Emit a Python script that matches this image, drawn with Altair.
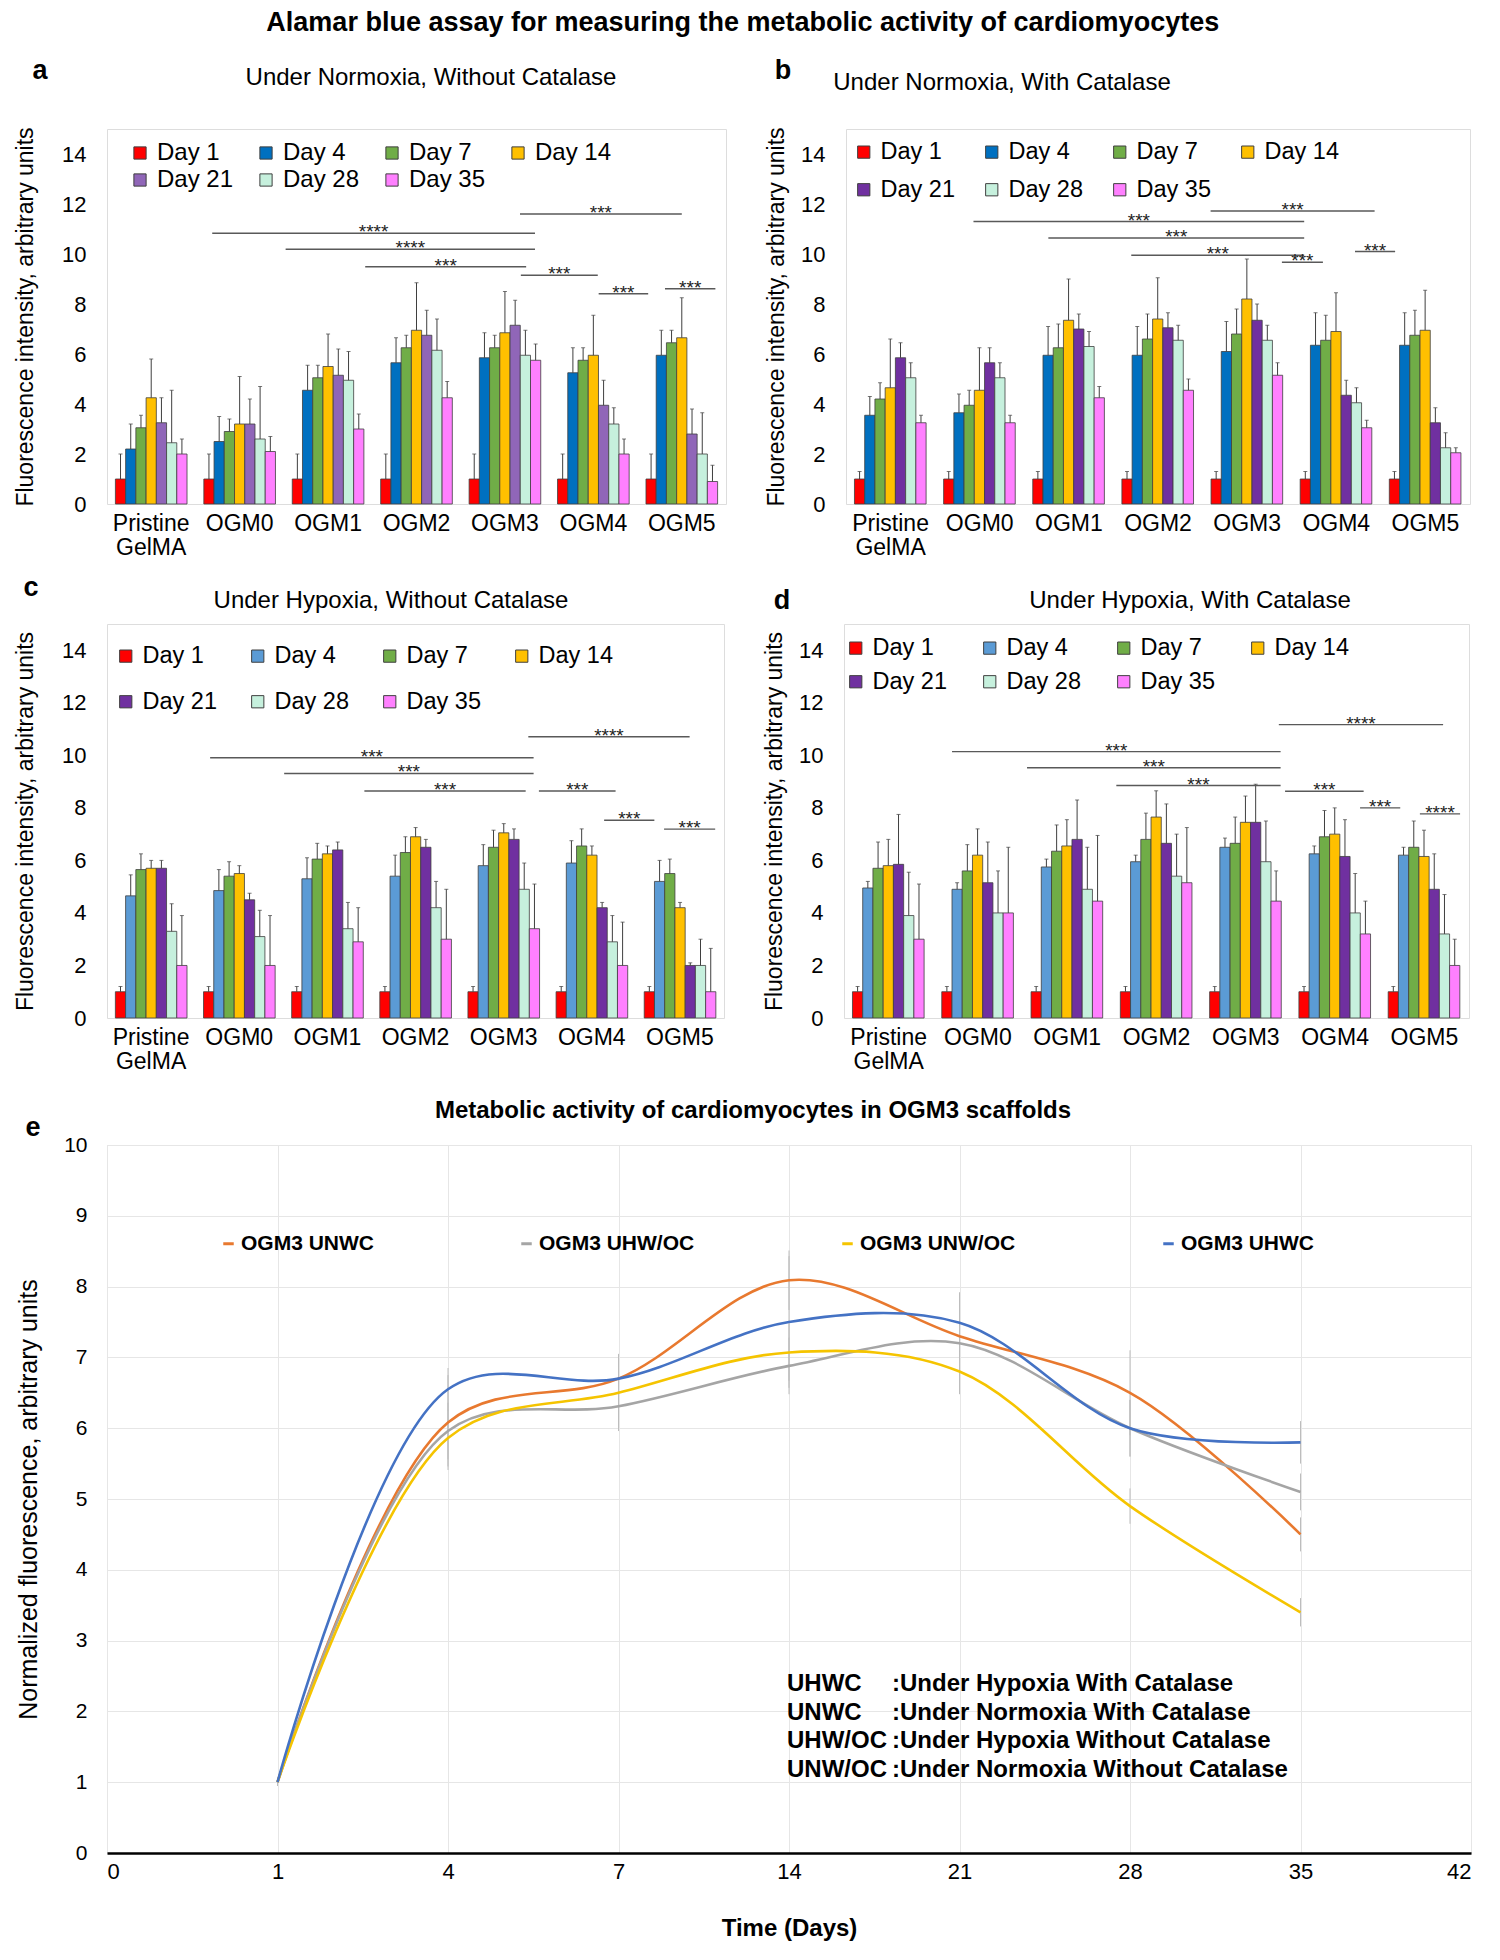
import altair as alt
import pandas as pd

FONT = "Liberation Sans"
MAIN_TITLE = "Alamar blue assay for measuring the metabolic activity of cardiomyocytes"

days = ["Day 1", "Day 4", "Day 7", "Day 14", "Day 21", "Day 28", "Day 35"]
groups = ["Pristine GelMA", "OGM0", "OGM1", "OGM2", "OGM3", "OGM4", "OGM5"]

# ---------------- panel a : Normoxia, without catalase
a_vals = [
    [1.0, 2.2, 3.05, 4.25, 3.25, 2.45, 2.0],
    [1.0, 2.5, 2.9, 3.2, 3.2, 2.6, 2.1],
    [1.0, 4.55, 5.05, 5.5, 5.15, 4.95, 3.0],
    [1.0, 5.65, 6.25, 6.95, 6.75, 6.15, 4.25],
    [1.0, 5.85, 6.25, 6.85, 7.15, 5.95, 5.75],
    [1.0, 5.25, 5.75, 5.95, 3.95, 3.2, 2.0],
    [1.0, 5.95, 6.45, 6.65, 2.8, 2.0, 0.9],
]
a_errs = [
    [1.0, 1.0, 0.5, 1.55, 1.0, 2.1, 0.6],
    [1.0, 1.0, 0.5, 1.9, 1.0, 2.1, 0.6],
    [1.0, 1.0, 0.5, 1.3, 1.05, 1.15, 0.6],
    [1.0, 1.0, 0.5, 1.9, 1.0, 1.25, 0.65],
    [1.0, 1.0, 0.5, 1.65, 1.0, 1.0, 0.65],
    [1.0, 1.0, 0.5, 1.6, 1.0, 0.65, 0.6],
    [1.0, 1.0, 0.5, 1.6, 1.0, 1.65, 0.65],
]
a_colors = ["#FF0000", "#0070C0", "#70AD47", "#FFC000", "#9066B8", "#C6F0DD", "#FF80FF"]
a_br_x1 = [1.19, 2.02, 2.92, 4.67, 4.68, 5.56, 6.31]
a_br_x2 = [4.84, 4.84, 4.74, 6.50, 5.55, 6.12, 6.88]
a_br_y = [10.83, 10.19, 9.49, 11.6, 9.15, 8.41, 8.61]
a_br_lab = ["****", "****", "***", "***", "***", "***", "***"]

# ---------------- panel b : Normoxia, with catalase
b_vals = [
    [1.0, 3.55, 4.2, 4.65, 5.85, 5.05, 3.25],
    [1.0, 3.65, 3.95, 4.55, 5.65, 5.05, 3.25],
    [1.0, 5.95, 6.25, 7.35, 7.0, 6.3, 4.25],
    [1.0, 5.95, 6.6, 7.4, 7.05, 6.55, 4.55],
    [1.0, 6.1, 6.8, 8.2, 7.35, 6.55, 5.15],
    [1.0, 6.35, 6.55, 6.9, 4.35, 4.05, 3.05],
    [1.0, 6.35, 6.75, 6.95, 3.25, 2.25, 2.05],
]
b_errs = [
    [0.3, 0.75, 0.65, 1.95, 0.6, 0.6, 0.3],
    [0.3, 0.75, 0.6, 1.7, 0.6, 0.6, 0.3],
    [0.3, 1.15, 0.95, 1.65, 0.6, 0.6, 0.45],
    [0.3, 1.15, 1.0, 1.65, 0.6, 0.6, 0.45],
    [0.3, 1.2, 1.0, 1.6, 0.65, 0.6, 0.5],
    [0.3, 1.3, 1.0, 1.55, 0.6, 0.6, 0.3],
    [0.3, 1.3, 1.0, 1.6, 0.6, 0.6, 0.2],
]
b_colors = ["#FF0000", "#0070C0", "#70AD47", "#FFC000", "#7030A0", "#C6F0DD", "#FF80FF"]
b_br_x1 = [1.43, 2.27, 3.20, 4.09, 4.89, 5.71]
b_br_x2 = [5.14, 5.14, 5.14, 5.93, 5.35, 6.16]
b_br_y = [11.3, 10.64, 9.95, 11.72, 9.67, 10.1]
b_br_lab = ["***", "***", "***", "***", "***", "***"]

# ---------------- panel c : Hypoxia, without catalase
c_vals = [
    [1.0, 4.65, 5.65, 5.7, 5.7, 3.3, 2.0],
    [1.0, 4.85, 5.4, 5.5, 4.5, 3.1, 2.0],
    [1.0, 5.3, 6.05, 6.25, 6.4, 3.4, 2.9],
    [1.0, 5.4, 6.3, 6.9, 6.5, 4.2, 3.0],
    [1.0, 5.8, 6.5, 7.05, 6.8, 4.9, 3.4],
    [1.0, 5.9, 6.55, 6.2, 4.2, 2.9, 2.0],
    [1.0, 5.2, 5.5, 4.2, 2.0, 2.0, 1.0],
]
c_errs = [
    [0.2, 0.8, 0.6, 0.3, 0.3, 1.05, 1.9],
    [0.2, 0.8, 0.55, 0.3, 0.25, 1.0, 1.9],
    [0.2, 0.8, 0.6, 0.3, 0.3, 1.0, 1.3],
    [0.2, 0.8, 0.6, 0.35, 0.3, 1.0, 1.9],
    [0.2, 0.8, 0.65, 0.35, 0.4, 1.0, 1.7],
    [0.2, 0.85, 0.65, 0.35, 0.2, 1.0, 1.65],
    [0.2, 0.8, 0.55, 0.2, 0.1, 1.0, 1.65],
]
c_colors = ["#FF0000", "#5B9BD5", "#70AD47", "#FFC000", "#7030A0", "#C6F0DD", "#FF80FF"]
c_br_x1 = [1.17, 2.01, 2.92, 4.78, 4.90, 5.64, 6.32]
c_br_x2 = [4.84, 4.84, 4.75, 6.61, 5.77, 6.21, 6.90]
c_br_y = [9.91, 9.31, 8.64, 10.71, 8.64, 7.53, 7.19]
c_br_lab = ["***", "***", "***", "****", "***", "***", "***"]

# ---------------- panel d : Hypoxia, with catalase
d_vals = [
    [1.0, 4.95, 5.7, 5.8, 5.85, 3.9, 3.0],
    [1.0, 4.9, 5.6, 6.2, 5.15, 4.0, 4.0],
    [1.0, 5.75, 6.35, 6.55, 6.8, 4.9, 4.45],
    [1.0, 5.95, 6.8, 7.65, 6.65, 5.4, 5.15],
    [1.0, 6.5, 6.65, 7.45, 7.45, 5.95, 4.45],
    [1.0, 6.25, 6.9, 7.0, 6.15, 4.0, 3.2],
    [1.0, 6.2, 6.5, 6.15, 4.9, 3.2, 2.0],
]
d_errs = [
    [0.2, 0.25, 1.0, 1.0, 1.9, 1.65, 2.1],
    [0.2, 0.25, 1.0, 1.0, 1.55, 1.6, 2.5],
    [0.2, 0.3, 1.0, 1.0, 1.5, 1.6, 2.5],
    [0.2, 0.25, 1.0, 1.0, 1.5, 1.6, 2.1],
    [0.2, 0.35, 1.0, 1.0, 1.45, 1.55, 1.15],
    [0.2, 0.3, 1.0, 1.0, 1.4, 1.5, 1.25],
    [0.2, 0.3, 1.0, 1.0, 1.35, 1.5, 1.0],
]
d_colors = ["#FF0000", "#5B9BD5", "#70AD47", "#FFC000", "#7030A0", "#C6F0DD", "#FF80FF"]
d_br_x1 = [1.21, 2.05, 3.05, 4.87, 4.94, 5.78, 6.45]
d_br_x2 = [4.89, 4.89, 4.89, 6.71, 5.82, 6.23, 6.90]
d_br_y = [10.14, 9.53, 8.85, 11.17, 8.63, 8.0, 7.77]
d_br_lab = ["***", "***", "***", "****", "***", "***", "****"]

# ---------------- panel e : OGM3 time course
e_tick_labels = ["0", "1", "4", "7", "14", "21", "28", "35", "42"]
e_days = ["1", "4", "7", "14", "21", "28", "35"]
e_series = ["OGM3 UNWC", "OGM3 UHW/OC", "OGM3 UNW/OC", "OGM3 UHWC"]
e_colors = ["#E8792F", "#A5A5A5", "#F5C400", "#4472C4"]
e_unwc = [1.0, 6.08, 6.7, 8.09, 7.3, 6.5, 4.5]
e_uhwoc = [1.0, 5.96, 6.31, 6.88, 7.2, 6.0, 5.1]
e_unwoc = [1.0, 5.86, 6.5, 7.07, 6.8, 4.9, 3.4]
e_uhwc = [1.0, 6.55, 6.7, 7.5, 7.49, 6.0, 5.8]
e_unwc_err = [0.05, 0.67, 0.35, 0.42, 0.3, 0.6, 0.24]
e_uhwoc_err = [0.05, 0.4, 0.35, 0.4, 0.72, 0.4, 0.26]
e_unwoc_err = [0.05, 0.4, 0.53, 0.4, 0.3, 0.25, 0.2]
e_uhwc_err = [0.05, 0.3, 0.3, 0.93, 0.4, 0.4, 0.3]
abbr = ["UHWC", "UNWC", "UHW/OC", "UNW/OC"]
abbr_desc = [":Under Hypoxia With Catalase", ":Under Normoxia With Catalase",
             ":Under Hypoxia Without Catalase", ":Under Normoxia Without Catalase"]

EDGE = "#3f3f3f"


def text_layer(txt, px, py, size, weight="normal", align="center", baseline="middle",
               line_height=None):
    kw = dict(font=FONT, fontSize=size, fontWeight=weight, align=align, baseline=baseline,
              color="black", text=txt)
    if line_height is not None:
        kw["lineHeight"] = line_height
    return alt.Chart(pd.DataFrame({"k": [0]})).mark_text(**kw).encode(
        x=alt.value(px), y=alt.value(py))


def bar_panel(vals, errs, colors, bx1, bx2, by, blab, letter, sub, W, H,
              letter_pos, sub_pos, lx, ly, lfont, lcolpad, lrowpad, title_pad):
    rows = []
    for gi, g in enumerate(groups):
        for di, d in enumerate(days):
            v = vals[gi][di]
            rows.append({"group": g, "day": d, "value": v, "top": v + errs[gi][di]})
    df = pd.DataFrame(rows)
    yscale = alt.Scale(domain=[0, 15], nice=False)
    y_axis = alt.Axis(title="Fluorescence intensity, arbitrary units",
                      values=[0, 2, 4, 6, 8, 10, 12, 14], grid=False, ticks=False,
                      domain=False, labelFont=FONT, labelFontSize=22, labelPadding=21,
                      labelColor="black", titleFont=FONT, titleFontSize=23,
                      titleFontWeight="normal", titlePadding=title_pad, titleColor="black")
    xscale = alt.Scale(paddingInner=0.19, paddingOuter=0.095)
    x_enc = alt.X("group:N", sort=groups, scale=xscale,
                  axis=alt.Axis(title=None, labelExpr="split(datum.label, ' ')", labelAngle=0,
                                ticks=False, domain=False, labelFont=FONT, labelFontSize=23,
                                labelPadding=8, labelLineHeight=24, labelColor="black"))
    xo_enc = alt.XOffset("day:N", sort=days, scale=alt.Scale(paddingInner=0, paddingOuter=0))
    base = alt.Chart(df)
    bars = base.mark_bar(stroke=EDGE, strokeWidth=0.8).encode(
        x=x_enc, xOffset=xo_enc,
        y=alt.Y("value:Q", scale=yscale, axis=y_axis),
        color=alt.Color("day:N", sort=days, scale=alt.Scale(domain=days, range=colors),
                        legend=alt.Legend(orient="none", legendX=lx, legendY=ly, columns=4,
                                          direction="horizontal", title=None,
                                          labelFont=FONT, labelFontSize=lfont,
                                          labelColor="black", symbolType="square",
                                          symbolSize=150, symbolStrokeColor=EDGE,
                                          symbolStrokeWidth=1, labelOffset=5,
                                          columnPadding=lcolpad, rowPadding=lrowpad,
                                          labelLimit=200)))
    err = base.mark_rule(color=EDGE, strokeWidth=1).encode(
        x=x_enc, xOffset=xo_enc, y=alt.Y("value:Q", scale=yscale, axis=y_axis), y2="top:Q")
    cap = base.mark_tick(color=EDGE, thickness=1, size=4).encode(
        x=x_enc, xOffset=xo_enc, y=alt.Y("top:Q", scale=yscale, axis=y_axis))
    bdf = pd.DataFrame({"x1": bx1, "x2": bx2, "y": by, "lab": blab})
    bscale = alt.Scale(domain=[0, 7], nice=False, zero=False)
    brule = alt.Chart(bdf).mark_rule(color="#595959", strokeWidth=1.4).encode(
        x=alt.X("x1:Q", scale=bscale, axis=None), x2="x2:Q",
        y=alt.Y("y:Q", scale=yscale, axis=y_axis))
    btext = alt.Chart(bdf).transform_calculate(xm="(datum.x1 + datum.x2) / 2").mark_text(
        font=FONT, fontSize=19, baseline="alphabetic", dy=5, color="#222222").encode(
        x=alt.X("xm:Q", scale=bscale, axis=None),
        y=alt.Y("y:Q", scale=yscale, axis=y_axis), text="lab:N")
    layers = [alt.layer(bars, err, cap), alt.layer(brule, btext),
              text_layer(letter, letter_pos[0], letter_pos[1], 27, "bold"),
              text_layer(sub, sub_pos[0], sub_pos[1], 24)]
    return alt.layer(*layers).resolve_scale(x="independent").properties(width=W, height=H)


pa = bar_panel(a_vals, a_errs, a_colors, a_br_x1, a_br_x2, a_br_y, a_br_lab, "a",
               "Under Normoxia, Without Catalase", 619, 375, (-67, -58), (324, -51),
               21, 12, 24, 20, 3, 24)
pb = bar_panel(b_vals, b_errs, b_colors, b_br_x1, b_br_x2, b_br_y, b_br_lab, "b",
               "Under Normoxia, With Catalase", 624, 375, (-63, -58), (156, -46),
               6, 11, 23.5, 25, 13, 12)
pc = bar_panel(c_vals, c_errs, c_colors, c_br_x1, c_br_x2, c_br_y, c_br_lab, "c",
               "Under Hypoxia, Without Catalase", 617, 394, (-76, -36), (284, -23),
               7, 20, 23.5, 29, 21, 24)
pd_ = bar_panel(d_vals, d_errs, d_colors, d_br_x1, d_br_x2, d_br_y, d_br_lab, "d",
                "Under Hypoxia, With Catalase", 625, 394, (-62, -23), (346, -23),
                0, 12, 23.5, 31, 9, 12)

# ---------------- panel e
series_vals = [e_unwc, e_uhwoc, e_unwoc, e_uhwc]
series_errs = [e_unwc_err, e_uhwoc_err, e_unwoc_err, e_uhwc_err]
erows = []
for s, vals, errs in zip(e_series, series_vals, series_errs):
    for d, v, er in zip(e_days, vals, errs):
        erows.append({"series": s, "pos": e_tick_labels.index(d), "value": v,
                      "lo": v - er, "hi": v + er})
edf = pd.DataFrame(erows)

label_expr = "[" + ",".join("'" + t + "'" for t in e_tick_labels) + "][datum.value]"
ex = alt.X("pos:Q", scale=alt.Scale(domain=[0, 8], nice=False, zero=False),
           axis=alt.Axis(values=list(range(9)), labelExpr=label_expr, title="Time (Days)",
                         grid=True, gridColor="#E6E6E6", ticks=False, domain=True,
                         domainColor="black", domainWidth=2.5, labelFont=FONT,
                         labelFontSize=22, labelColor="black", labelPadding=8,
                         titleFont=FONT, titleFontSize=24, titleFontWeight="bold",
                         titleColor="black", titlePadding=34))
ey_scale = alt.Scale(domain=[0, 10], nice=False)
ey_axis = alt.Axis(values=list(range(11)), title="Normalized fluorescence, arbitrary units",
                   grid=True, gridColor="#E6E6E6", ticks=False, domain=False,
                   labelFont=FONT, labelFontSize=21, labelColor="black", labelPadding=20,
                   titleFont=FONT, titleFontSize=25, titleFontWeight="normal",
                   titleColor="black", titlePadding=22)
ebase = alt.Chart(edf)
e_err = ebase.mark_rule(color="#BDBDBD", strokeWidth=1).encode(
    x=ex, y=alt.Y("lo:Q", scale=ey_scale, axis=ey_axis), y2="hi:Q")
e_lines = ebase.mark_line(interpolate="catmull-rom", strokeWidth=2.6).encode(
    x=ex, y=alt.Y("value:Q", scale=ey_scale, axis=ey_axis),
    color=alt.Color("series:N", sort=e_series,
                    scale=alt.Scale(domain=e_series, range=e_colors),
                    legend=alt.Legend(orient="none", legendX=111, legendY=88, columns=4,
                                      direction="horizontal", title=None,
                                      symbolType="stroke", symbolSize=110,
                                      symbolStrokeWidth=3, labelFont=FONT,
                                      labelFontSize=21, labelFontWeight="bold",
                                      labelColor="black", labelOffset=2,
                                      columnPadding=141, labelLimit=300)))
e_abbr = text_layer(abbr, 680, 527, 24, "bold", align="left", baseline="top", line_height=28.5)
e_desc = text_layer(abbr_desc, 785, 527, 24, "bold", align="left", baseline="top", line_height=28.5)
e_letter = text_layer("e", -74, -17, 27, "bold")
e_title = text_layer("Metabolic activity of cardiomyocytes in OGM3 scaffolds", 646, -34, 24, "bold")
pe = alt.layer(e_err, e_lines, e_abbr, e_desc, e_letter, e_title).properties(width=1364, height=708)

RES = dict(color="independent", x="independent", y="independent")
row1 = alt.hconcat(pa, pb, spacing=38).resolve_scale(**RES)
row2 = alt.hconcat(pc, pd_, spacing=38).resolve_scale(**RES)
rows12 = alt.vconcat(row1, row2, spacing=13).resolve_scale(**RES)
chart = alt.vconcat(rows12, pe, spacing=24).resolve_scale(**RES).properties(
    title=alt.TitleParams(MAIN_TITLE, font=FONT, fontSize=27, fontWeight="bold",
                          anchor="middle", color="black", offset=20),
    padding={"left": 6, "top": 0, "right": 5, "bottom": 0},
).configure_view(stroke="#595959", strokeWidth=1.2).configure(background="white")

chart.save("out.html", embed_options={"renderer": "svg", "actions": False})
